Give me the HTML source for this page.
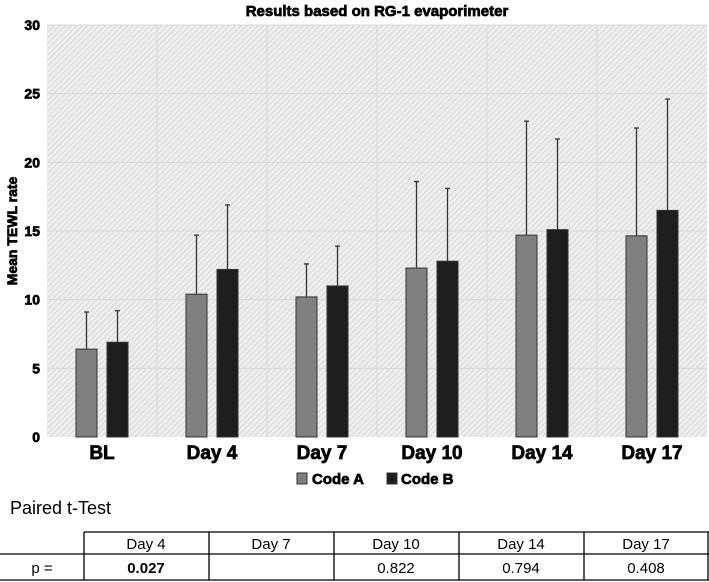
<!DOCTYPE html>
<html><head><meta charset="utf-8"><style>
body{margin:0;background:#fff;width:709px;height:582px;overflow:hidden;font-family:"Liberation Sans",sans-serif}
svg{display:block}
.heavy{stroke:#000;stroke-width:0.7px;paint-order:stroke}
</style></head><body>
<svg width="709" height="582">
<defs>
<pattern id="hatch" width="4" height="4" patternUnits="userSpaceOnUse" patternTransform="rotate(45)">
<rect width="4" height="4" fill="#eeeeee"/><line x1="0" y1="0" x2="0" y2="4" stroke="#d2d2d2" stroke-width="1.6"/>
</pattern>
</defs>
<text class="heavy" x="377" y="16" text-anchor="middle" font-size="15" font-weight="bold">Results based on RG-1 evaporimeter</text>
<rect x="47" y="25" width="660" height="412" fill="url(#hatch)"/>
<g id="grid"></g>
<g id="bars"></g>
<g id="axes"></g>
<text class="heavy" transform="translate(17,231) rotate(-90)" text-anchor="middle" font-size="14" font-weight="bold">Mean TEWL rate</text>
<g>
<rect x="297" y="473" width="10" height="11" fill="#808080" stroke="#333"/>
<text class="heavy" x="312" y="484" font-size="15" font-weight="bold">Code A</text>
<rect x="387" y="473" width="10" height="11" fill="#1e1e1e" stroke="#333"/>
<text class="heavy" x="401" y="484" font-size="15" font-weight="bold">Code B</text>
</g>
<text x="10" y="514" font-size="18">Paired t-Test</text>
<g stroke="#000" stroke-width="1.3" fill="none">
<line x1="84" y1="532" x2="709" y2="532"/>
<line x1="0" y1="554" x2="709" y2="554"/>
<line x1="0" y1="580" x2="709" y2="580"/>
<line x1="84" y1="532" x2="84" y2="580"/>
<line x1="209" y1="532" x2="209" y2="580"/>
<line x1="334" y1="532" x2="334" y2="580"/>
<line x1="459" y1="532" x2="459" y2="580"/>
<line x1="584" y1="532" x2="584" y2="580"/>
<line x1="708" y1="532" x2="708" y2="580"/>
</g>
<g font-size="15" text-anchor="middle" fill="#000">
<text x="146" y="549">Day 4</text>
<text x="271" y="549">Day 7</text>
<text x="396" y="549">Day 10</text>
<text x="521" y="549">Day 14</text>
<text x="646" y="549">Day 17</text>
<text x="42" y="573">p =</text>
<text x="146" y="573" font-weight="bold">0.027</text>
<text x="396" y="573">0.822</text>
<text x="521" y="573">0.794</text>
<text x="646" y="573">0.408</text>
</g>
</svg>
<script>
const categories=["BL","Day 4","Day 7","Day 10","Day 14","Day 17"];
const codeA=[6.4,10.4,10.2,12.3,14.7,14.65];
const codeB=[6.9,12.2,11.0,12.8,15.1,16.5];
const codeAErrTop=[9.1,14.7,12.6,18.6,23.0,22.5];
const codeBErrTop=[9.2,16.9,13.9,18.1,21.7,24.6];
const yTicks=[0,5,10,15,20,25,30];
const NS="http://www.w3.org/2000/svg";
const X0=47,W=660,Y0=437,YT=25,YMAX=30;
const bw=W/categories.length;
function y(v){return Y0-(v/YMAX)*(Y0-YT);}
function cx(i){return X0+bw*(i+0.5);}
function mk(tag,attrs,parent){const e=document.createElementNS(NS,tag);for(const k in attrs)e.setAttribute(k,attrs[k]);parent.appendChild(e);return e;}
const grid=document.getElementById('grid'),bars=document.getElementById('bars'),axes=document.getElementById('axes');
yTicks.forEach(t=>{
  if(t>0){const l=mk('line',{x1:X0,x2:X0+W,y1:y(t),y2:y(t),stroke:'#d8d8d8','stroke-width':1},grid);
  
  }
  const tx=mk('text',{x:40,y:y(t)+5,'text-anchor':'end','font-size':14,'font-weight':'bold','class':'heavy'},axes);
  tx.textContent=t;
  
  
});
for(let i=1;i<categories.length;i++){
  const l=mk('line',{x1:X0+bw*i,x2:X0+bw*i,y1:YT,y2:Y0,stroke:'#d8d8d8','stroke-width':1},grid);
  
  
}
categories.forEach((c,i)=>{
  const c0=cx(i);
  [[codeA,codeAErrTop,'#808080',-26,'a'],[codeB,codeBErrTop,'#1e1e1e',5,'b']].forEach(s=>{
    const v=s[0][i],top=s[1][i],x=c0+s[3];
    const r=mk('rect',{x:x,y:y(v),width:21,height:Y0-y(v),fill:s[2],stroke:'#333','stroke-width':1},bars);
    
    
    const e=mk('path',{d:`M${x+10.5},${y(v)}V${y(top)}M${x+8},${y(top)}H${x+13}`,stroke:'#333','stroke-width':1.3,fill:'none'},bars);
    
    
  });
  const t=mk('text',{x:c0,y:459,'text-anchor':'middle','font-size':19,'font-weight':'bold','class':'heavy'},axes);
  t.textContent=c;
  
  
});
</script>
</body></html>
